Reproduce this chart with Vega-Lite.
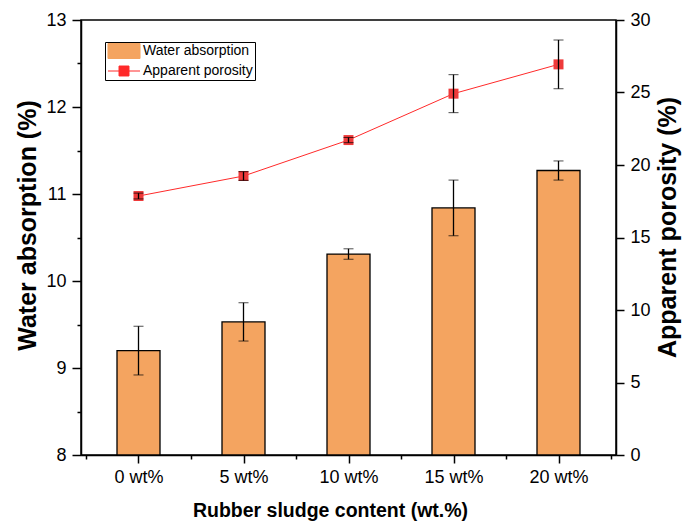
{
  "$schema": "https://vega.github.io/schema/vega-lite/v6.json",
  "width": 535,
  "height": 435,
  "autosize": "none",
  "padding": {"left": 81, "top": 20, "right": 81, "bottom": 69},
  "background": "white",
  "config": {
    "font": "Liberation Sans",
    "view": {"stroke": "black", "strokeWidth": 1.5},
    "axis": {
      "grid": false,
      "domainColor": "black",
      "domainWidth": 1.5,
      "tickColor": "black",
      "tickWidth": 1.5,
      "labelColor": "black",
      "labelFontSize": 18,
      "labelFont": "Liberation Sans",
      "titleFont": "Liberation Sans",
      "titleFontSize": 25,
      "titleFontWeight": "bold",
      "titleColor": "black"
    }
  },
  "data": {
    "values": [
      {"content": 0, "wa": 9.20, "wa_err": 0.28, "ap": 17.86, "ap_err": 0.2},
      {"content": 5, "wa": 9.53, "wa_err": 0.22, "ap": 19.24, "ap_err": 0.3},
      {"content": 10, "wa": 10.31, "wa_err": 0.06, "ap": 21.72, "ap_err": 0.18},
      {"content": 15, "wa": 10.84, "wa_err": 0.32, "ap": 24.92, "ap_err": 1.31},
      {"content": 20, "wa": 11.27, "wa_err": 0.11, "ap": 26.94, "ap_err": 1.68}
    ]
  },
  "layer": [
    {
      "layer": [
        {
          "mark": {"type": "bar", "size": 43, "stroke": "black", "strokeWidth": 1.3},
          "encoding": {
            "x": {
              "field": "content",
              "type": "quantitative",
              "scale": {"domain": [-2.5, 22.5], "nice": false, "zero": false},
              "axis": {
                "values": [-2.5, 0, 2.5, 5, 7.5, 10, 12.5, 15, 17.5, 20, 22.5],
                "labelExpr": "datum.value % 5 === 0 ? datum.value + ' wt%' : ''",
                "tickSize": {"condition": {"test": "datum.value % 5 !== 0", "value": 4}, "value": 8},
                "labelPadding": 5,
                "title": "Rubber sludge content (wt.%)",
                "titleFontSize": 19.5,
                "titleX": 249,
                "titlePadding": 15
              }
            },
            "y": {
              "field": "wa",
              "type": "quantitative",
              "title": "Water absorption (%)",
              "scale": {"domain": [8, 13], "nice": false, "zero": false},
              "axis": {
                "orient": "left",
                "values": [8, 8.5, 9, 9.5, 10, 10.5, 11, 11.5, 12, 12.5, 13],
                "labelExpr": "datum.value % 1 === 0 ? format(datum.value, 'd') : ''",
                "tickSize": {"condition": {"test": "datum.value % 1 !== 0", "value": 4}, "value": 9},
                "labelPadding": 6,
                "titleY": 205,
                "titlePadding": 5
              }
            },
            "y2": {"datum": 8},
            "color": {
              "datum": "Water absorption",
              "type": "nominal",
              "scale": {"domain": ["Water absorption", "Apparent porosity"], "range": ["#F4A460", "#FF2A2A"]},
              "legend": {
                "title": null,
                "orient": "none",
                "legendX": 24,
                "legendY": 22,
                "strokeColor": "black",
                "padding": 2,
                "symbolSize": 144,
                "symbolOffset": 10,
                "labelFontSize": 14,
                "labelColor": "black",
                "labelOffset": 12,
                "rowPadding": 3,
                "encode": {
                  "symbols": {
                    "update": {
                      "shape": {"signal": "datum.label === 'Water absorption' ? 'M-2.67,-1.25H2.67V1.25H-2.67Z' : 'M-2.67,0H-0.83M0.83,0H2.67M-0.83,-0.83H0.83V0.83H-0.83Z'"},
                      "fill": {"signal": "datum.label === 'Water absorption' ? '#F4A460' : '#EE3A3A'"},
                      "stroke": {"signal": "datum.label === 'Water absorption' ? 'black' : '#FF8080'"},
                      "strokeWidth": {"value": 1},
                      "opacity": {"value": 1}
                    }
                  }
                }
              }
            }
          }
        },
        {
          "mark": {"type": "errorbar", "orient": "vertical", "ticks": {"size": 10, "color": "black", "strokeWidth": 1.3}, "rule": {"color": "black", "strokeWidth": 1.3}},
          "encoding": {
            "x": {"field": "content", "type": "quantitative", "title": "Rubber sludge content (wt.%)"},
            "y": {"field": "wa", "type": "quantitative", "title": "Water absorption (%)"},
            "yError": {"field": "wa_err"}
          }
        }
      ]
    },
    {
      "layer": [
        {
          "mark": {"type": "line", "strokeWidth": 1},
          "encoding": {
            "x": {"field": "content", "type": "quantitative", "title": "Rubber sludge content (wt.%)"},
            "y": {
              "field": "ap",
              "type": "quantitative",
              "title": "Apparent porosity (%)",
              "scale": {"domain": [0, 30], "nice": false},
              "axis": {
                "orient": "right",
                "values": [0, 2.5, 5, 7.5, 10, 12.5, 15, 17.5, 20, 22.5, 25, 27.5, 30],
                "labelExpr": "datum.value % 5 === 0 ? format(datum.value, 'd') : ''",
                "tickSize": {"condition": {"test": "datum.value % 5 !== 0", "value": 4}, "value": 8},
                "labelPadding": 6,
                "titleAngle": 270,
                "titleBaseline": "top",
                "titleY": 207,
                "titlePadding": 5
              }
            },
            "color": {
              "datum": "Apparent porosity",
              "type": "nominal",
              "legend": {
                "title": null,
                "orient": "none",
                "legendX": 24,
                "legendY": 22,
                "strokeColor": "black",
                "padding": 2,
                "symbolSize": 144,
                "symbolOffset": 10,
                "labelFontSize": 14,
                "labelColor": "black",
                "labelOffset": 12,
                "rowPadding": 3,
                "encode": {
                  "symbols": {
                    "update": {
                      "shape": {"signal": "datum.label === 'Water absorption' ? 'M-2.67,-1.25H2.67V1.25H-2.67Z' : 'M-2.67,0H-0.83M0.83,0H2.67M-0.83,-0.83H0.83V0.83H-0.83Z'"},
                      "fill": {"signal": "datum.label === 'Water absorption' ? '#F4A460' : '#EE3A3A'"},
                      "stroke": {"signal": "datum.label === 'Water absorption' ? 'black' : '#FF8080'"},
                      "strokeWidth": {"value": 1},
                      "opacity": {"value": 1}
                    }
                  }
                }
              }
            }
          }
        },
        {
          "mark": {"type": "point", "shape": "square", "filled": true, "size": 100, "color": "#EE3A3A", "opacity": 1},
          "encoding": {
            "x": {"field": "content", "type": "quantitative", "title": "Rubber sludge content (wt.%)"},
            "y": {"field": "ap", "type": "quantitative", "title": "Apparent porosity (%)"}
          }
        },
        {
          "mark": {"type": "errorbar", "orient": "vertical", "ticks": {"size": 10, "color": "black", "strokeWidth": 1.3}, "rule": {"color": "black", "strokeWidth": 1.3}},
          "encoding": {
            "x": {"field": "content", "type": "quantitative", "title": "Rubber sludge content (wt.%)"},
            "y": {"field": "ap", "type": "quantitative", "title": "Apparent porosity (%)"},
            "yError": {"field": "ap_err"}
          }
        }
      ]
    }
  ],
  "resolve": {"scale": {"y": "independent"}}
}
